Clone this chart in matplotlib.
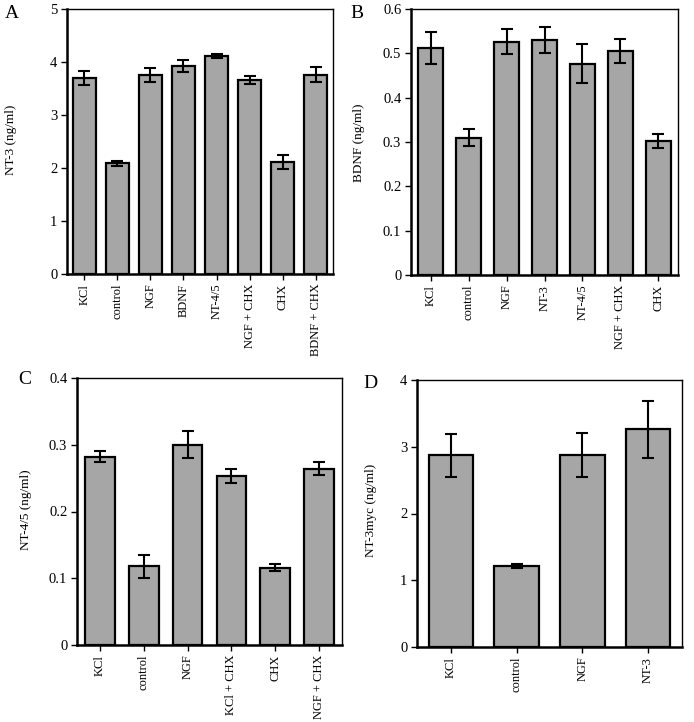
"""Neurotrophin ELISA bar panels (A-D)."""

import matplotlib

matplotlib.use("Agg")

import matplotlib.pyplot as plt

plt.rcParams["font.family"] = ["Liberation Serif", "DejaVu Serif"]

W, H = 694, 722

# Panel A: NT-3
a_labels = ["KCl", "control", "NGF", "BDNF", "NT-4/5", "NGF + CHX", "CHX", "BDNF + CHX"]
a_values = [3.70, 2.09, 3.75, 3.93, 4.11, 3.66, 2.11, 3.76]
a_errors = [0.13, 0.05, 0.13, 0.11, 0.04, 0.07, 0.13, 0.14]

# Panel B: BDNF
b_labels = ["KCl", "control", "NGF", "NT-3", "NT-4/5", "NGF + CHX", "CHX"]
b_values = [0.512, 0.310, 0.526, 0.530, 0.477, 0.506, 0.302]
b_errors = [0.036, 0.020, 0.028, 0.030, 0.045, 0.027, 0.015]

# Panel C: NT-4/5
c_labels = ["KCl", "control", "NGF", "KCl + CHX", "CHX", "NGF + CHX"]
c_values = [0.282, 0.118, 0.300, 0.253, 0.116, 0.264]
c_errors = [0.008, 0.017, 0.020, 0.010, 0.005, 0.010]

# Panel D: NT-3myc
d_labels = ["KCl", "control", "NGF", "NT-3"]
d_values = [2.87, 1.22, 2.87, 3.26]
d_errors = [0.32, 0.03, 0.33, 0.43]


def px_rect(left, right, top, bottom):
    return [left / W, (H - bottom) / H, (right - left) / W, (bottom - top) / H]


def draw_panel(fig, rect, letter, letter_xy, ylabel, label_xy, labels, values, errors,
               ylim, yticks, ytick_labels, width):
    ax = fig.add_axes(rect)
    x = list(range(len(labels)))
    ax.bar(x, values, width=width, color="#a6a6a6", edgecolor="black", linewidth=1.6,
           zorder=2)
    ax.errorbar(x, values, yerr=errors, fmt="none", ecolor="black", elinewidth=1.5,
                capsize=4.5, capthick=1.5, zorder=3)
    ax.set_xlim(-0.52, len(labels) - 0.48)
    ax.set_ylim(*ylim)
    ax.set_yticks(yticks)
    ax.set_yticklabels(ytick_labels, fontsize=10.5)
    ax.set_xticks(x)
    ax.set_xticklabels(labels, rotation=90, fontsize=9)
    ax.tick_params(axis="both", direction="out", length=4, width=1.0, pad=3)
    for side in ["left", "bottom"]:
        ax.spines[side].set_linewidth(1.8)
    for side in ["top", "right"]:
        ax.spines[side].set_linewidth(1.0)
    fig.text(label_xy[0] / W, 1 - label_xy[1] / H, ylabel, fontsize=9.5, rotation=90,
             ha="center", va="center")
    fig.text(letter_xy[0] / W, 1 - letter_xy[1] / H, letter, fontsize=14,
             ha="center", va="center")
    return ax


fig = plt.figure(figsize=(W / 100, H / 100), dpi=100)

draw_panel(fig, px_rect(67, 333, 9, 274), "A", (12, 14), "NT-3 (ng/ml)", (11, 140),
           a_labels, a_values, a_errors, (0, 5), [0, 1, 2, 3, 4, 5],
           ["0", "1", "2", "3", "4", "5"], 0.7)
draw_panel(fig, px_rect(411, 678, 9, 275), "B", (357, 14), "BDNF (ng/ml)", (359, 143),
           b_labels, b_values, b_errors, (0, 0.6), [0, 0.1, 0.2, 0.3, 0.4, 0.5, 0.6],
           ["0", "0.1", "0.2", "0.3", "0.4", "0.5", "0.6"], 0.66)
draw_panel(fig, px_rect(77, 342, 378, 645), "C", (25, 379), "NT-4/5 (ng/ml)", (26, 510),
           c_labels, c_values, c_errors, (0, 0.4), [0, 0.1, 0.2, 0.3, 0.4],
           ["0", "0.1", "0.2", "0.3", "0.4"], 0.68)
draw_panel(fig, px_rect(417, 682, 380, 647), "D", (370, 383), "NT-3myc (ng/ml)", (371, 510),
           d_labels, d_values, d_errors, (0, 4), [0, 1, 2, 3, 4],
           ["0", "1", "2", "3", "4"], 0.68)

fig.savefig("out.png", dpi=100)
plt.close(fig)
